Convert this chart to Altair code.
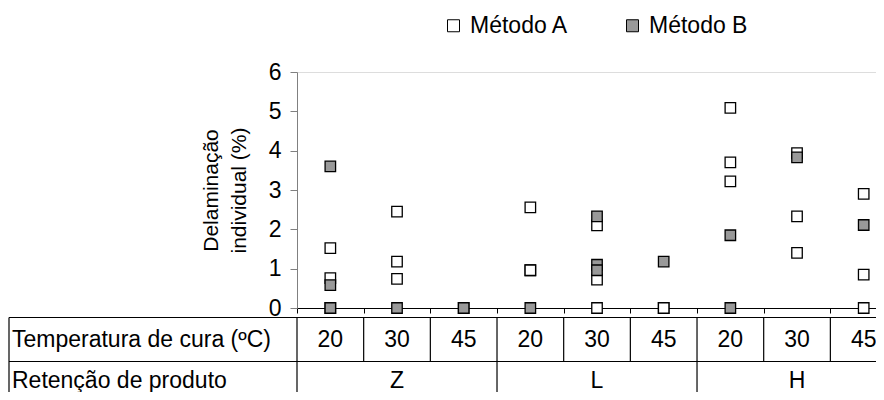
import altair as alt
import pandas as pd

# ---- data ----
retencao = ["Z", "Z", "Z", "L", "L", "L", "H", "H", "H"]
temperatura = [20, 30, 45, 20, 30, 45, 20, 30, 45]
metodo_a = [
    [1.52, 0.76, 0.0],
    [2.45, 1.18, 0.74],
    [0.0],
    [2.56, 0.96, 0.96],
    [2.10, 0.72, 0.0],
    [0.0, 0.0],
    [5.09, 3.70, 3.22],
    [3.94, 2.33, 1.40],
    [2.90, 0.85, 0.0],
]
metodo_b = [
    [3.60, 0.58, 0.0],
    [0.0],
    [0.0],
    [0.0],
    [2.33, 1.10, 0.96],
    [1.18],
    [1.85, 0.0],
    [3.83],
    [2.11],
]
series = ["Método A", "Método B"]
y_ticks = [0, 1, 2, 3, 4, 5, 6]
row_labels = ["Temperatura de cura (ºC)", "Retenção de produto"]

FONT = "Liberation Sans"
FS = 23
W, H = 579, 236
XMAX = W / 66.67

rows = []
for name, vals in zip(series, [metodo_a, metodo_b]):
    for i, lst in enumerate(vals):
        for v in lst:
            rows.append({"pos": i + 0.5, "valor": v, "metodo": name})
pts = pd.DataFrame(rows)

temps = pd.DataFrame({"pos": [i + 0.5 for i in range(len(temperatura))],
                      "temp": [str(t) for t in temperatura]})
groups = []
for g in dict.fromkeys(retencao):
    idx = [i for i, r in enumerate(retencao) if r == g]
    groups.append({"pos": (idx[0] + idx[-1] + 1) / 2, "ret": g, "start": idx[0]})
groups = pd.DataFrame(groups)
bounds1 = pd.DataFrame({"b": list(range(len(temperatura)))})
bounds2 = pd.DataFrame({"b": list(groups["start"])})

xscale = alt.Scale(domain=[0, XMAX], nice=False, zero=False)
yscale = alt.Scale(domain=[0, 6], nice=False)

points = alt.Chart(pts).mark_square(
    size=110, stroke="black", strokeWidth=1.3, opacity=1
).encode(
    x=alt.X("pos:Q", scale=xscale, title=None,
            axis=alt.Axis(values=list(range(9)), labels=False, tickSize=5,
                          grid=False, domainColor="black", tickColor="black",
                          domainWidth=1.2, tickWidth=1)),
    y=alt.Y("valor:Q", scale=yscale,
            title=["Delaminação", "individual (%)"],
            axis=alt.Axis(values=y_ticks, tickSize=7, grid=False,
                          labelFontSize=FS, labelColor="black", labelFont=FONT,
                          labelPadding=9, domainColor="#808080",
                          tickColor="#808080", titleFontSize=21,
                          titleFont=FONT, titleFontWeight="normal",
                          titleColor="black", titlePadding=19,
                          titleLineHeight=28)),
    fill=alt.Fill("metodo:N",
                  scale=alt.Scale(domain=series, range=["white", "#999999"]),
                  legend=alt.Legend(title=None, orient="none", legendX=145,
                                    legendY=-58, direction="horizontal",
                                    symbolType="square", symbolSize=144,
                                    symbolStrokeColor="black",
                                    symbolStrokeWidth=1, labelFontSize=FS,
                                    labelFont=FONT, labelColor="black",
                                    labelOffset=5, columnPadding=52,
                                    padding=0)),
)

TOP, MID, BOT = 245.5, 289.5, 340
LEFT = -288

hl = alt.Chart(pd.DataFrame({"k": [0]})).mark_rule(color="black", strokeWidth=1.2)
hline1 = hl.encode(x=alt.value(LEFT), x2=alt.value(W), y=alt.value(TOP))
hline2 = hl.encode(x=alt.value(LEFT), x2=alt.value(W), y=alt.value(MID))
lborder = hl.encode(x=alt.value(LEFT), y=alt.value(TOP), y2=alt.value(BOT))

v1 = alt.Chart(bounds1).mark_rule(color="black", strokeWidth=1.2).encode(
    x=alt.X("b:Q", scale=xscale), y=alt.value(TOP), y2=alt.value(MID))
v2 = alt.Chart(bounds2).mark_rule(color="black", strokeWidth=1.2).encode(
    x=alt.X("b:Q", scale=xscale), y=alt.value(MID), y2=alt.value(BOT))

t1 = alt.Chart(temps).mark_text(font=FONT, fontSize=FS, color="black",
                                baseline="middle").encode(
    x=alt.X("pos:Q", scale=xscale), y=alt.value(268), text="temp:N")
t2 = alt.Chart(groups).mark_text(font=FONT, fontSize=FS, color="black",
                                 baseline="middle").encode(
    x=alt.X("pos:Q", scale=xscale), y=alt.value(309), text="ret:N")

lab = pd.DataFrame({"label": row_labels})
rl1 = alt.Chart(lab.iloc[[0]]).mark_text(font=FONT, fontSize=FS, color="black",
                                         align="left", baseline="middle").encode(
    x=alt.value(LEFT + 3), y=alt.value(268), text="label:N")
rl2 = alt.Chart(lab.iloc[[1]]).mark_text(font=FONT, fontSize=FS, color="black",
                                         align="left", baseline="middle").encode(
    x=alt.value(LEFT + 3), y=alt.value(309), text="label:N")

chart = alt.layer(hline1, hline2, lborder, v1, v2, t1, t2, rl1, rl2, points).properties(
    width=W, height=H,
    autosize=alt.AutoSizeParams(type="none"),
    padding={"left": 289, "top": 64, "right": 0, "bottom": 84},
).configure_view(stroke=None).configure(font=FONT)

chart.save("out.html", embed_options={"renderer": "svg", "actions": False})
